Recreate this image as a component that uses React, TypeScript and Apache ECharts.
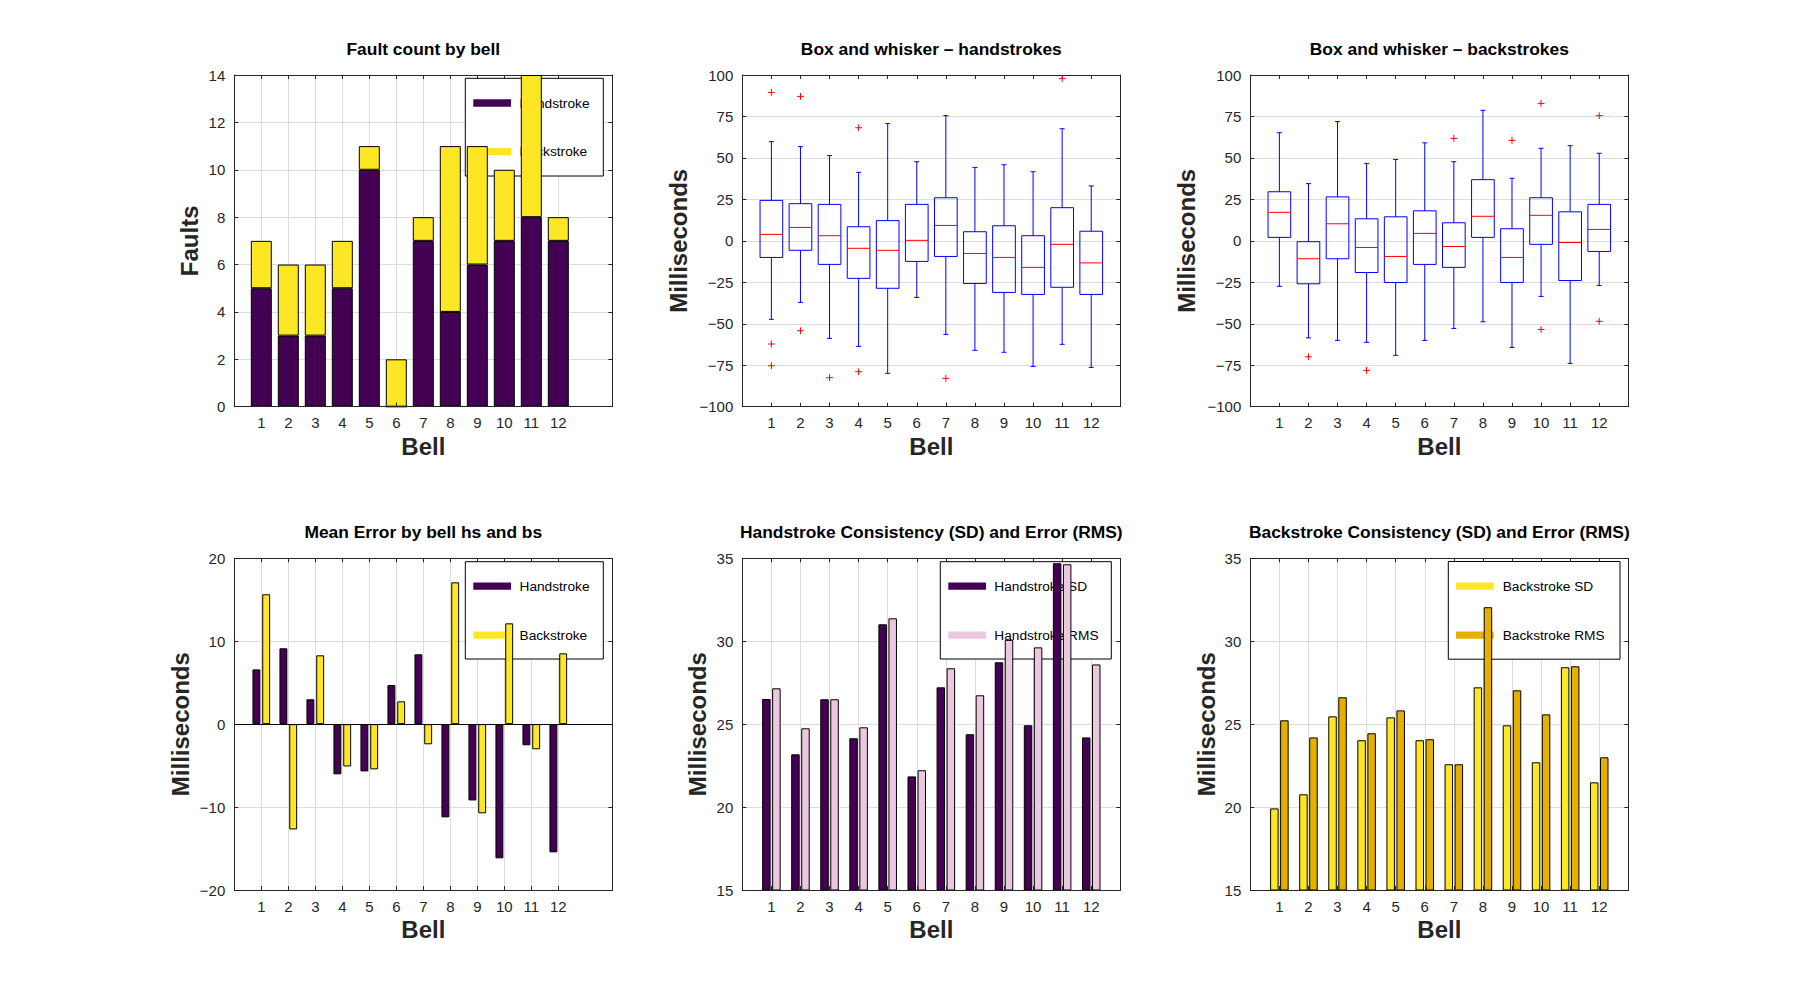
import { useEffect, useRef } from "react";
import * as echarts from "echarts";

// bells on every x axis
const bells = [1, 2, 3, 4, 5, 6, 7, 8, 9, 10, 11, 12];

// fault counts (stacked)
const hsFaults = [5, 3, 3, 5, 10, 0, 7, 4, 6, 7, 8, 7];
const bsFaults = [2, 3, 3, 2, 1, 2, 1, 7, 5, 3, 6, 1];

// box and whisker - handstrokes (ms)
const hsLow = [-47.3, -37.1, -58.8, -63.6, -79.9, -34.1, -56.4, -66.0, -67.2, -75.7, -62.4, -76.3];
const hsQ1 = [-10.0, -5.7, -14.2, -22.6, -28.6, -12.4, -9.4, -25.7, -31.1, -32.3, -28.0, -32.3];
const hsMedian = [3.9, 8.1, 3.1, -4.5, -5.7, 0.3, 9.3, -7.6, -10.0, -16.0, -2.1, -13.3];
const hsQ3 = [24.4, 22.4, 22.0, 8.5, 12.2, 22.0, 26.0, 5.5, 9.1, 3.1, 20.0, 5.8];
const hsHigh = [59.8, 56.8, 51.4, 41.3, 70.7, 47.7, 75.5, 44.3, 45.9, 41.7, 67.6, 33.1];
const hsOutliers = [
  [1, 89.5], [1, -62.2], [1, -75.3], [2, 87.1], [2, -54.2],
  [3, -82.5], [4, 68.2], [4, -78.9], [7, -82.9], [11, 97.8],
];

// box and whisker - backstrokes (ms)
const bsLow = [-27.4, -58.5, -60.0, -61.2, -69.0, -60.0, -52.8, -48.8, -64.3, -33.5, -73.9, -26.9];
const bsQ1 = [2.1, -25.9, -10.8, -19.1, -25.1, -14.2, -16.0, 2.1, -25.1, -2.1, -23.9, -6.4];
const bsMedian = [17.2, -10.8, 10.3, -4.0, -9.4, 4.5, -3.4, 14.8, -10.0, 15.4, -1.0, 6.9];
const bsQ3 = [29.6, -0.5, 26.5, 13.3, 14.5, 18.1, 10.9, 36.9, 7.3, 26.0, 17.5, 22.0];
const bsHigh = [65.2, 34.5, 71.9, 46.7, 49.1, 59.1, 47.7, 78.7, 37.7, 55.8, 57.4, 52.8];
const bsOutliers = [
  [2, -69.9], [4, -78.1], [7, 61.8], [9, 60.6],
  [10, 82.9], [10, -53.4], [12, 75.5], [12, -48.5],
];

// mean error (ms)
const hsMean = [6.6, 9.15, 3.0, -6.05, -5.7, 4.72, 8.42, -11.24, -9.2, -16.18, -2.55, -15.46];
const bsMean = [15.66, -12.7, 8.3, -5.1, -5.45, 2.75, -2.43, 17.1, -10.75, 12.16, -3.03, 8.54];

// consistency (SD) and error (RMS), ms
const hsSD = [26.52, 23.18, 26.5, 24.15, 31.02, 21.85, 27.22, 24.39, 28.73, 24.93, 34.7, 24.2];
const hsRMS = [27.16, 24.75, 26.5, 24.81, 31.38, 22.22, 28.37, 26.74, 30.08, 29.63, 34.64, 28.6];
const bsSD = [19.92, 20.77, 25.47, 24.03, 25.41, 24.03, 22.58, 27.22, 24.93, 22.7, 28.43, 21.49];
const bsRMS = [25.23, 24.2, 26.62, 24.45, 25.83, 24.09, 22.58, 32.05, 27.04, 25.59, 28.49, 23.0];

const FONT = "'Liberation Sans', Arial, Helvetica, sans-serif";
const AXIS_COLOR = "#262626";
const GRID_COLOR = "#dcdcdc";
const PURPLE = "#440154";
const YELLOW = "#fde725";
const PINK = "#ebc8df";
const GOLD = "#e5b000";
const BOX_BLUE = "#0000ff";
const MEDIAN_RED = "#ff0000";
const BOX_WIDTH = 0.78;
const CAP = 2.5;

// plot areas in page pixels
const grids = [
  { left: 234.3, top: 75 },
  { left: 742.3, top: 75 },
  { left: 1250.3, top: 75 },
  { left: 234.3, top: 558.3 },
  { left: 742.3, top: 558.3 },
  { left: 1250.3, top: 558.3 },
].map((g) => ({ ...g, width: 378, height: 331.7 }));

const minus = (v: number) => String(v).replace("-", "\u2212");
const isBell = (i: number) => i >= 1 && i <= bells.length;
const pairs = (vals: number[]) => bells.map((b, i) => [b, vals[i]]);

const labelStyle = { fontSize: 15, color: AXIS_COLOR, fontFamily: FONT };
const nameStyle = { fontSize: 24, fontWeight: "bold", color: AXIS_COLOR, fontFamily: FONT };
const frame = { show: true, onZero: false, lineStyle: { color: AXIS_COLOR, width: 1 } };
const ticks = { show: true, inside: true, length: 4, lineStyle: { color: AXIS_COLOR } };

// x axes: bottom (labels, name) and top (grid lines, ticks)
function catXAxes(gi: number, upper: number) {
  const cats = Array.from({ length: upper + 1 }, (_, i) => String(i));
  const base = { type: "category", gridIndex: gi, data: cats, boundaryGap: false };
  return [
    {
      ...base, position: "bottom", z: 3, axisLine: frame,
      axisTick: { ...ticks, interval: isBell },
      axisLabel: { ...labelStyle, interval: isBell, margin: 8.5 },
      splitLine: { show: false },
      name: "Bell", nameLocation: "middle", nameGap: 27.5, nameTextStyle: nameStyle,
    },
    {
      ...base, position: "top", z: 0, axisLine: frame,
      axisTick: { ...ticks, interval: isBell },
      axisLabel: { show: false },
      splitLine: { show: true, interval: isBell, lineStyle: { color: GRID_COLOR } },
    },
  ];
}

function valueXAxes(gi: number) {
  const base = { type: "value", gridIndex: gi, min: 0, max: 13, interval: 1 };
  return [
    {
      ...base, position: "bottom", z: 3, axisLine: frame, axisTick: ticks,
      axisLabel: { ...labelStyle, margin: 8.5, formatter: (v: number) => (isBell(v) ? String(v) : "") },
      splitLine: { show: false },
      name: "Bell", nameLocation: "middle", nameGap: 27.5, nameTextStyle: nameStyle,
    },
    {
      ...base, position: "top", z: 0, axisLine: frame, axisTick: ticks,
      axisLabel: { show: false }, splitLine: { show: false },
    },
  ];
}

function yAxes(gi: number, min: number, max: number, interval: number, name: string, gap: number) {
  const base = { type: "value", gridIndex: gi, min, max, interval };
  return [
    {
      ...base, position: "left", z: 3, axisLine: frame, axisTick: ticks,
      axisLabel: { ...labelStyle, margin: 9, formatter: minus },
      splitLine: { show: false },
      name, nameLocation: "middle", nameGap: gap, nameTextStyle: nameStyle,
    },
    {
      ...base, position: "right", z: 0, axisLine: frame, axisTick: ticks,
      axisLabel: { show: false },
      splitLine: { show: true, lineStyle: { color: GRID_COLOR } },
    },
  ];
}

function barSeries(name: string, gi: number, vals: number[], color: string, width: number, gap: string, stack?: string) {
  return {
    type: "bar", name, xAxisIndex: gi * 2, yAxisIndex: gi * 2,
    data: pairs(vals), stack, barWidth: width, barGap: gap,
    itemStyle: { color, borderColor: "#000", borderWidth: 1 },
  };
}

function boxSeries(gi: number, lows: number[], q1s: number[], meds: number[], q3s: number[], highs: number[]) {
  return {
    type: "custom", xAxisIndex: gi * 2, yAxisIndex: gi * 2, coordinateSystem: "cartesian2d",
    encode: { x: 0, y: [1, 2, 3, 4, 5] },
    data: bells.map((b, i) => [b, lows[i], q1s[i], meds[i], q3s[i], highs[i]]),
    renderItem: (_params: any, api: any) => {
      const x = api.value(0);
      const [cx, yLo] = api.coord([x, api.value(1)]);
      const yQ1 = api.coord([x, api.value(2)])[1];
      const yMed = api.coord([x, api.value(3)])[1];
      const yQ3 = api.coord([x, api.value(4)])[1];
      const yHi = api.coord([x, api.value(5)])[1];
      const half = api.size([BOX_WIDTH, 0])[0] / 2;
      const blue = { stroke: BOX_BLUE, lineWidth: 1 };
      return {
        type: "group",
        children: [
          { type: "line", shape: { x1: cx, y1: yQ3, x2: cx, y2: yHi }, style: blue },
          { type: "line", shape: { x1: cx, y1: yQ1, x2: cx, y2: yLo }, style: blue },
          { type: "line", shape: { x1: cx - CAP, y1: yHi, x2: cx + CAP, y2: yHi }, style: blue },
          { type: "line", shape: { x1: cx - CAP, y1: yLo, x2: cx + CAP, y2: yLo }, style: blue },
          { type: "rect", shape: { x: cx - half, y: yQ3, width: half * 2, height: yQ1 - yQ3 }, style: { ...blue, fill: "none" } },
          { type: "line", shape: { x1: cx - half, y1: yMed, x2: cx + half, y2: yMed }, style: { stroke: MEDIAN_RED, lineWidth: 1 } },
        ],
      };
    },
  };
}

function outlierSeries(gi: number, pts: number[][]) {
  return {
    type: "custom", xAxisIndex: gi * 2, yAxisIndex: gi * 2, coordinateSystem: "cartesian2d",
    encode: { x: 0, y: 1 },
    data: pts,
    renderItem: (_params: any, api: any) => {
      const [px, py] = api.coord([api.value(0), api.value(1)]);
      const s = { stroke: MEDIAN_RED, lineWidth: 1 };
      return {
        type: "group",
        children: [
          { type: "line", shape: { x1: px - 3.4, y1: py, x2: px + 3.4, y2: py }, style: s },
          { type: "line", shape: { x1: px, y1: py - 3.4, x2: px, y2: py + 3.4 }, style: s },
        ],
      };
    },
  };
}

// legend box drawn under the bars, like the original
function legendBox(x: number, y: number, w: number, h: number, sx: number, tx: number, rows: { name: string; color: string; y: number }[]) {
  return [
    { type: "rect", z: 1, shape: { x, y, width: w, height: h }, style: { fill: "#fff", stroke: "#000", lineWidth: 1 } },
    ...rows.flatMap((r) => [
      { type: "rect", z: 1, shape: { x: sx, y: r.y - 3.65, width: 37.7, height: 7.3 }, style: { fill: r.color } },
      {
        type: "text", z: 1, x: tx, y: r.y,
        style: { text: r.name, fill: "#000", fontSize: 13.7, fontFamily: FONT, align: "left", verticalAlign: "middle" },
      },
    ]),
  ];
}

const titles = [
  "Fault count by bell",
  "Box and whisker \u2013 handstrokes",
  "Box and whisker \u2013 backstrokes",
  "Mean Error by bell hs and bs",
  "Handstroke Consistency (SD) and Error (RMS)",
  "Backstroke Consistency (SD) and Error (RMS)",
];

export default function App() {
  const chartRef = useRef<HTMLDivElement>(null);

  useEffect(() => {
    if (!chartRef.current) return;
    const chart = echarts.init(chartRef.current, null, { renderer: "svg" });

    const option: any = {
      animation: false,
      backgroundColor: "#fff",
      title: titles.map((text, i) => ({
        text,
        left: grids[i].left + grids[i].width / 2,
        top: i < 3 ? 40.1 : 523.8,
        textAlign: "center",
        padding: 0,
        textStyle: { fontSize: 17.4, fontWeight: "bold", color: "#000", fontFamily: FONT },
      })),
      grid: grids.map((g) => ({ ...g, containLabel: false })),
      xAxis: [
        ...catXAxes(0, 14),
        ...valueXAxes(1),
        ...valueXAxes(2),
        ...catXAxes(3, 14),
        ...catXAxes(4, 13),
        ...catXAxes(5, 13),
      ],
      yAxis: [
        ...yAxes(0, 0, 14, 2, "Faults", 33),
        ...yAxes(1, -100, 100, 25, "Milliseconds", 52),
        ...yAxes(2, -100, 100, 25, "Milliseconds", 51.6),
        ...yAxes(3, -20, 20, 10, "Milliseconds", 41.6),
        ...yAxes(4, 15, 35, 5, "Milliseconds", 33),
        ...yAxes(5, 15, 35, 5, "Milliseconds", 32),
      ],
      series: [
        barSeries("Handstroke", 0, hsFaults, PURPLE, 21, "0%", "faults"),
        barSeries("Backstroke", 0, bsFaults, YELLOW, 21, "0%", "faults"),
        boxSeries(1, hsLow, hsQ1, hsMedian, hsQ3, hsHigh),
        outlierSeries(1, hsOutliers),
        boxSeries(2, bsLow, bsQ1, bsMedian, bsQ3, bsHigh),
        outlierSeries(2, bsOutliers),
        {
          ...barSeries("Handstroke", 3, hsMean, PURPLE, 7.9, "24%"),
          markLine: {
            silent: true, symbol: ["none", "none"], label: { show: false },
            lineStyle: { color: "#000", width: 1, type: "solid" },
            data: [{ yAxis: 0 }],
          },
        },
        barSeries("Backstroke", 3, bsMean, YELLOW, 7.9, "24%"),
        barSeries("Handstroke SD", 4, hsSD, PURPLE, 8.5, "18%"),
        barSeries("Handstroke RMS", 4, hsRMS, PINK, 8.5, "18%"),
        barSeries("Backstroke SD", 5, bsSD, YELLOW, 8.5, "18%"),
        barSeries("Backstroke RMS", 5, bsRMS, GOLD, 8.5, "18%"),
      ],
      graphic: [
        ...legendBox(465.3, 78.3, 138, 97.7, 473.3, 519.5, [
          { name: "Handstroke", color: PURPLE, y: 103 },
          { name: "Backstroke", color: YELLOW, y: 151.7 },
        ]),
        ...legendBox(465.3, 561.7, 138, 97.3, 473.3, 519.5, [
          { name: "Handstroke", color: PURPLE, y: 586.2 },
          { name: "Backstroke", color: YELLOW, y: 635.2 },
        ]),
        ...legendBox(940.3, 561.7, 171, 97.3, 948.3, 994.3, [
          { name: "Handstroke SD", color: PURPLE, y: 586.2 },
          { name: "Handstroke RMS", color: PINK, y: 635.2 },
        ]),
        ...legendBox(1448.3, 561.5, 171.7, 97.7, 1456, 1502.7, [
          { name: "Backstroke SD", color: YELLOW, y: 586.2 },
          { name: "Backstroke RMS", color: GOLD, y: 635.2 },
        ]),
      ],
    };

    chart.setOption(option);
    return () => chart.dispose();
  }, []);

  return (
    <div
      ref={chartRef}
      style={{ position: "absolute", left: 0, top: 0, width: 1800, height: 1000, background: "#fff" }}
    />
  );
}
